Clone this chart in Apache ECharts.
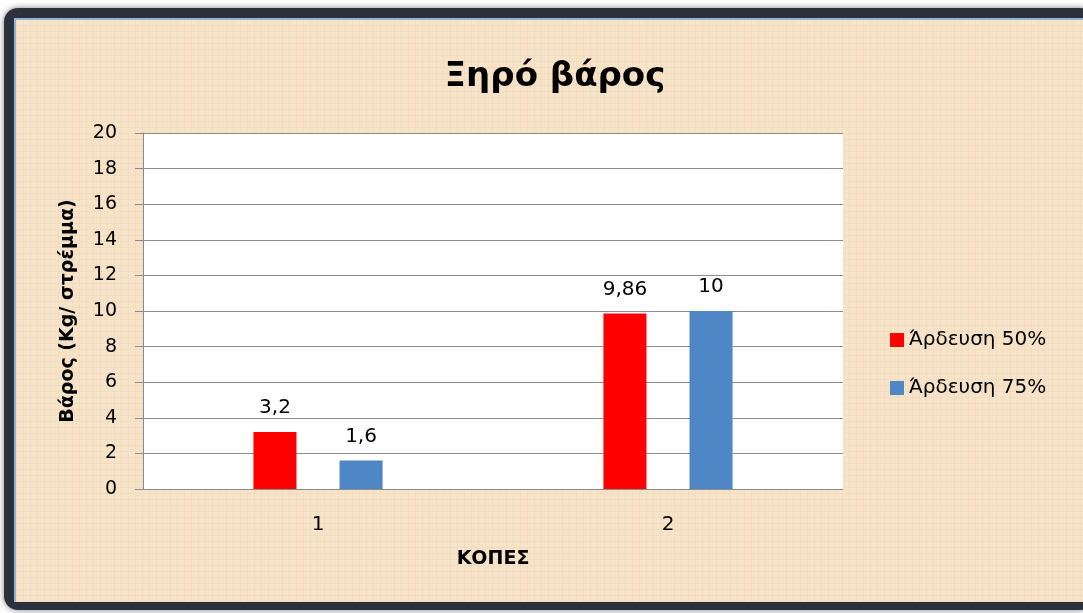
<!DOCTYPE html>
<html lang="el">
<head>
    <meta charset="UTF-8">
    <title>Ξηρό βάρος</title>
    <script src="https://cdn.jsdelivr.net/npm/echarts@6/dist/echarts.min.js"></script>
    <style>
        html, body { margin: 0; padding: 0; background: #ffffff; }
        #frame {
            position: absolute; left: 4px; top: 8px; width: 1090px; height: 602px;
            background: #2c313c; border-radius: 14px;
            box-shadow: 0 0 6px rgba(0,0,0,0.5);
        }
        #main {
            position: absolute; left: 14px; top: 18px; width: 1069px; height: 582px;
            border-top: 2px solid #8fb3d9; border-left: 2px solid #8fb3d9;
            background-color: #f6e3c8;
            background-image:
                repeating-linear-gradient(0deg, rgba(225,180,140,0.13) 0 1px, transparent 1px 6px),
                repeating-linear-gradient(90deg, rgba(225,180,140,0.13) 0 1px, transparent 1px 7px);
        }
    </style>
</head>
<body>
<div id="frame"></div>
<div id="main"></div>
<script>
    // data
    const categories = ['1', '2'];
    const seriesNames = ['Άρδευση 50%', 'Άρδευση 75%'];
    const irrigation50 = [3.2, 9.86];
    const irrigation75 = [1.6, 10];
    const colors = ['#fe0000', '#4f86c6'];

    const font = 'DejaVu Sans';
    // the chart div starts at 16,20 in the page
    const offX = 16, offY = 20;

    const valueLabel = {
        show: true,
        position: 'top',
        distance: 14,
        fontFamily: font,
        fontSize: 20,
        color: '#000',
        formatter: p => String(p.value).replace('.', ',')
    };

    let option = {
        title: {
            text: 'Ξηρό βάρος',
            left: 550 - offX,
            top: 55 - offY,
            textAlign: 'center',
            textStyle: { fontFamily: font, fontSize: 34, fontWeight: 'bold', color: '#000' }
        },
        legend: {
            orient: 'vertical',
            left: 885 - offX,
            top: 325 - offY,
            itemWidth: 14,
            itemHeight: 14,
            itemGap: 28,
            icon: 'rect',
            textStyle: { fontFamily: font, fontSize: 20, lineHeight: 20, color: '#000' },
            data: seriesNames
        },
        grid: {
            left: 143 - offX,
            top: 133 - offY,
            width: 700,
            height: 356,
            backgroundColor: '#ffffff',
            show: true,
            borderWidth: 0
        },
        xAxis: {
            type: 'category',
            data: categories,
            name: 'ΚΟΠΕΣ',
            nameLocation: 'middle',
            nameGap: 61,
            nameTextStyle: { fontFamily: font, fontSize: 19, fontWeight: 'bold', color: '#000' },
            axisLine: { lineStyle: { color: '#8c8c8c' } },
            axisTick: { show: false },
            axisLabel: { fontFamily: font, fontSize: 20, color: '#000', margin: 26 }
        },
        yAxis: {
            type: 'value',
            min: 0,
            max: 20,
            interval: 2,
            name: 'Βάρος (Kg/ στρέμμα)',
            nameLocation: 'middle',
            nameGap: 65,
            nameRotate: 90,
            nameTextStyle: { fontFamily: font, fontSize: 19, fontWeight: 'bold', color: '#000' },
            axisLine: { show: true, lineStyle: { color: '#8c8c8c' } },
            axisTick: { show: true, length: 8, lineStyle: { color: '#8c8c8c' } },
            axisLabel: { fontFamily: font, fontSize: 19, color: '#000', margin: 26 },
            splitLine: { lineStyle: { color: '#8c8c8c' } }
        },
        series: [
            {
                name: seriesNames[0],
                type: 'bar',
                data: irrigation50,
                barWidth: '12.3%',
                barGap: '100%',
                itemStyle: { color: colors[0] },
                label: valueLabel
            },
            {
                name: seriesNames[1],
                type: 'bar',
                data: irrigation75,
                barWidth: '12.3%',
                barGap: '100%',
                itemStyle: { color: colors[1] },
                label: valueLabel
            }
        ]
    };

    let myChart = echarts.init(document.getElementById('main'));
    myChart.setOption(option);
</script>
</body>
</html>
